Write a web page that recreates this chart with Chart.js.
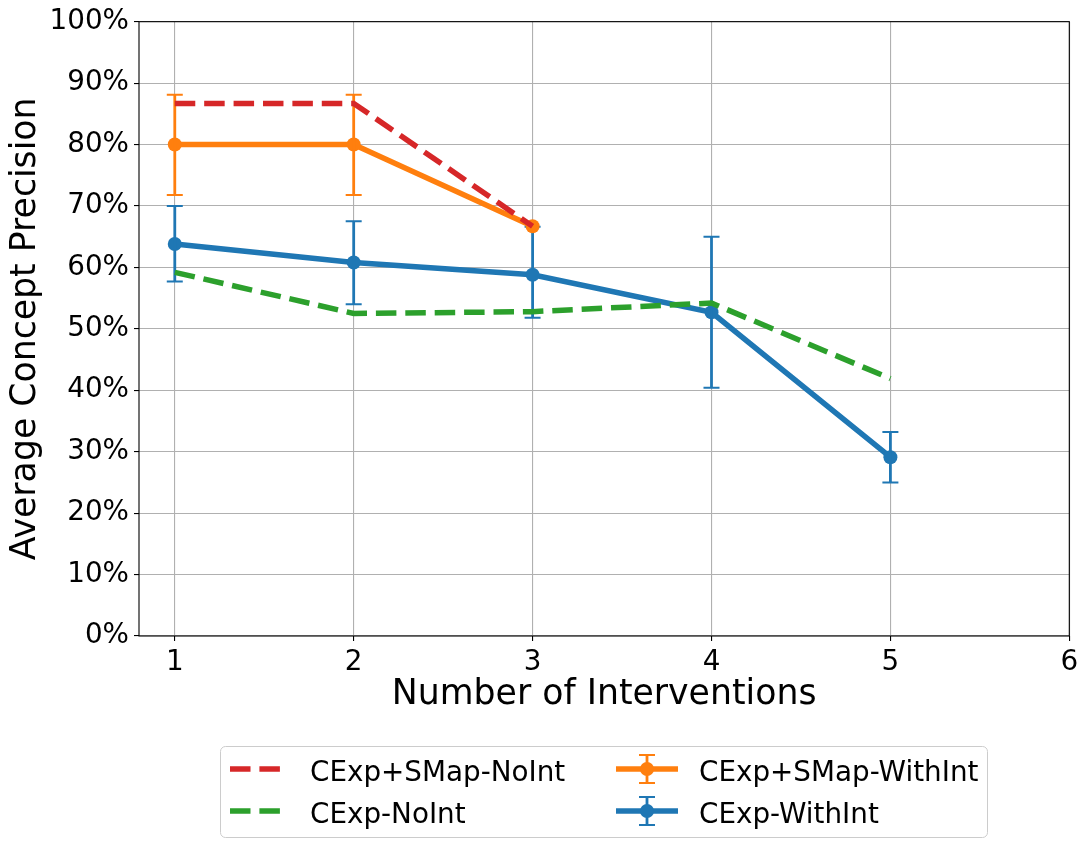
<!DOCTYPE html>
<html>
<head>
<meta charset="utf-8">
<script src="https://cdn.jsdelivr.net/npm/chart.js@4.4.1/dist/chart.umd.min.js"></script>
<style>
  html, body { margin: 0; padding: 0; background: #fff; }
  #wrap { width: 1087px; height: 848px; position: relative; }
</style>
</head>
<body>
<div id="wrap"><canvas id="precisaoChart"></canvas></div>
<script>
// valores
const intervencoes = [1, 2, 3, 4, 5];
const ticksX = [1, 2, 3, 4, 5, 6];
const ticksY = [0, 10, 20, 30, 40, 50, 60, 70, 80, 90, 100];

const rotulos = ['CExp+SMap-NoInt', 'CExp-NoInt', 'CExp+SMap-WithInt', 'CExp-WithInt'];

const smapSemInt = [86.7, 86.7, 66.7];
const smapComInt = [80.0, 80.0, 66.7];
const smapComIntMin = [71.8, 71.8, null];
const smapComIntMax = [88.1, 88.1, null];

const expSemInt = [59.2, 52.5, 52.8, 54.2, 41.9];
const expComInt = [63.8, 60.8, 58.8, 52.7, 29.1];
const expComIntMin = [57.7, 54.0, 51.8, 40.4, 25.0];
const expComIntMax = [70.0, 67.5, 66.6, 65.0, 33.2];

const cores = { azul: '#1f77b4', laranja: '#ff7f0e', verde: '#2ca02c', vermelho: '#d62728' };
const tracejado = [20.5, 8.9];

function pontos(valores) {
    return valores.map((v, i) => ({ x: intervencoes[i], y: v }));
}

Chart.defaults.font.family = "'DejaVu Sans', sans-serif";
Chart.defaults.color = '#000';

// barras de erro desenhadas com as escalas do gráfico
const barrasErro = {
    id: 'barrasErro',
    afterDatasetDraw(chart, args) {
        const ds = chart.data.datasets[args.index];
        if (!ds.errMin) return;
        const ctx = chart.ctx;
        const sx = chart.scales.x, sy = chart.scales.y;
        ctx.save();
        ctx.strokeStyle = ds.borderColor;
        ds.errMin.forEach((lo, i) => {
            const hi = ds.errMax[i];
            if (lo == null || hi == null) return;
            const px = sx.getPixelForValue(intervencoes[i]);
            const p1 = sy.getPixelForValue(lo);
            const p2 = sy.getPixelForValue(hi);
            ctx.lineWidth = 2.8;
            ctx.beginPath();
            ctx.moveTo(px, p1);
            ctx.lineTo(px, p2);
            ctx.stroke();
            ctx.lineWidth = 2;
            ctx.beginPath();
            ctx.moveTo(px - 8, p1); ctx.lineTo(px + 8, p1);
            ctx.moveTo(px - 8, p2); ctx.lineTo(px + 8, p2);
            ctx.stroke();
        });
        ctx.restore();
    }
};

// moldura e legenda no estilo matplotlib
const molduraLegenda = {
    id: 'molduraLegenda',
    afterDraw(chart) {
        const ctx = chart.ctx;
        const a = chart.chartArea;
        ctx.save();
        ctx.strokeStyle = '#000';
        ctx.lineWidth = 1.1;
        ctx.strokeRect(a.left, a.top, a.right - a.left, a.bottom - a.top);

        // caixa da legenda
        ctx.beginPath();
        ctx.roundRect(220.5, 746.5, 767, 91, 5);
        ctx.fillStyle = 'rgba(255,255,255,0.8)';
        ctx.fill();
        ctx.strokeStyle = '#cccccc';
        ctx.lineWidth = 1;
        ctx.stroke();

        const posicoes = [
            { x: 230, y: 769 }, { x: 230, y: 811 },
            { x: 616, y: 769 }, { x: 616, y: 811 }
        ];
        chart.data.datasets.forEach((ds, i) => {
            const p = posicoes[i];
            const comp = 62;
            ctx.strokeStyle = ds.borderColor;
            ctx.lineWidth = 5.5;
            ctx.setLineDash(ds.borderDash || []);
            ctx.beginPath();
            ctx.moveTo(p.x, p.y);
            ctx.lineTo(p.x + (ds.borderDash ? 51 : comp), p.y);
            ctx.stroke();
            ctx.setLineDash([]);
            if (ds.errMin) {
                const cx = p.x + comp / 2;
                ctx.lineWidth = 2.8;
                ctx.beginPath();
                ctx.moveTo(cx, p.y - 14); ctx.lineTo(cx, p.y + 14);
                ctx.stroke();
                ctx.lineWidth = 2;
                ctx.beginPath();
                ctx.moveTo(cx - 8, p.y - 14); ctx.lineTo(cx + 8, p.y - 14);
                ctx.moveTo(cx - 8, p.y + 14); ctx.lineTo(cx + 8, p.y + 14);
                ctx.stroke();
                ctx.fillStyle = ds.borderColor;
                ctx.beginPath();
                ctx.arc(cx, p.y, 7, 0, Math.PI * 2);
                ctx.fill();
            }
            ctx.fillStyle = '#000';
            ctx.font = "27.8px 'DejaVu Sans'";
            ctx.textBaseline = 'alphabetic';
            ctx.textAlign = 'left';
            ctx.fillText(ds.label, p.x + (i < 2 ? 80 : 83), p.y + 11.5);
        });
        ctx.restore();
    }
};

const ctxPrecisao = document.getElementById('precisaoChart').getContext('2d');
new Chart(ctxPrecisao, {
    type: 'line',
    data: {
        datasets: [
            {
                label: rotulos[0],
                data: pontos(smapSemInt),
                borderColor: cores.vermelho,
                borderWidth: 5.5,
                borderDash: tracejado,
                pointRadius: 0
            },
            {
                label: rotulos[1],
                data: pontos(expSemInt),
                borderColor: cores.verde,
                borderWidth: 5.5,
                borderDash: tracejado,
                pointRadius: 0
            },
            {
                label: rotulos[2],
                data: pontos(smapComInt),
                borderColor: cores.laranja,
                backgroundColor: cores.laranja,
                borderWidth: 5.5,
                pointRadius: 7,
                pointBorderWidth: 0,
                pointBackgroundColor: cores.laranja,
                errMin: smapComIntMin,
                errMax: smapComIntMax
            },
            {
                label: rotulos[3],
                data: pontos(expComInt),
                borderColor: cores.azul,
                backgroundColor: cores.azul,
                borderWidth: 5.5,
                pointRadius: 7,
                pointBorderWidth: 0,
                pointBackgroundColor: cores.azul,
                errMin: expComIntMin,
                errMax: expComIntMax
            }
        ]
    },
    options: {
        responsive: true,
        maintainAspectRatio: false,
        animation: false,
        devicePixelRatio: 1,
        layout: { padding: { top: 20, right: 17.7, left: 0, bottom: 0 } },
        scales: {
            x: {
                type: 'linear',
                min: 0.8,
                max: 6,
                afterBuildTicks: (s) => { s.ticks = ticksX.map(v => ({ value: v })); },
                afterFit: (s) => { s.height = 212; },
                ticks: { font: { size: 27.8 }, padding: 5, maxRotation: 0 },
                grid: { color: '#b0b0b0', lineWidth: 1.1, tickColor: '#000', tickLength: 5 },
                border: { display: false },
                title: {
                    display: true,
                    text: 'Number of Interventions',
                    font: { size: 34.7 },
                    padding: { top: 0, bottom: 132.2 }
                }
            },
            y: {
                min: 0,
                max: 100,
                afterBuildTicks: (s) => { s.ticks = ticksY.map(v => ({ value: v })); },
                afterFit: (s) => { s.width = 139; },
                ticks: { font: { size: 27.8 }, padding: 5, callback: (v) => v + '%' },
                grid: { color: '#b0b0b0', lineWidth: 1.1, tickColor: '#000', tickLength: 5 },
                border: { display: false },
                title: {
                    display: true,
                    text: 'Average Concept Precision',
                    font: { size: 34.7 },
                    padding: { top: 4.7, bottom: 0 }
                }
            }
        },
        plugins: {
            legend: { display: false },
            tooltip: { enabled: false }
        }
    },
    plugins: [barrasErro, molduraLegenda]
});
</script>
</body>
</html>
